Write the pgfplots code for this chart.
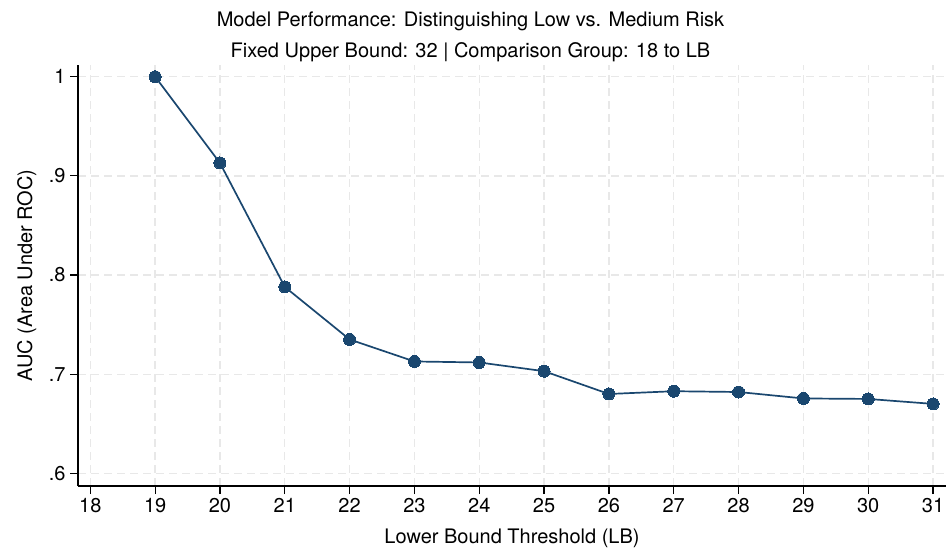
\documentclass[border=0pt]{standalone}
\usepackage{pgfplots}
\pgfplotsset{compat=1.18}
\usepackage{fontspec}
\setmainfont{TeX Gyre Heros}
\definecolor{navy}{RGB}{26,71,111}
\definecolor{gridgray}{RGB}{232,232,232}

\begin{document}
\begin{tikzpicture}
% fixed page frame around the plot area
\path[use as bounding box] (-78pt,-64pt) rectangle (869pt,486pt);
\begin{axis}[
  at={(0,0)}, anchor=south west,
  scale only axis,
  width=868pt, height=421pt,
  xmin=17.81, xmax=31.2,
  ymin=0.5872, ymax=1.0118,
  axis x line*=bottom, axis y line*=left,
  axis line style={black, line width=1.2pt, -},
  xtick={18,...,31},
  ytick={0.6,0.7,0.8,0.9,1},
  yticklabels={.6,.7,.8,.9,1},
  tick align=outside,
  major tick length=8pt,
  tick style={black, line width=1.2pt},
  grid=major,
  major grid style={gridgray, line width=1.3pt, dash pattern=on 8pt off 5pt},
  font=\fontsize{20}{24}\selectfont,
  /pgf/number format/assume math mode=true,
  ticklabel style={font=\fontsize{20}{24}\selectfont},
  xticklabel style={yshift=-1pt},
  yticklabel style={xshift=-1pt},
  xlabel={Lower Bound Threshold (LB)},
  ylabel={AUC (Area Under ROC)},
  xlabel style={at={(axis description cs:0.5,-0.1354)}, anchor=base},
  ylabel style={at={(axis description cs:-0.053,0.5)}, anchor=base},
  clip=false,
]
\addplot[navy, line width=1.7pt, mark=*, mark size=6pt,
  mark options={fill=navy, draw=navy, line width=0pt}]
  coordinates {
    (19,1.000) (20,0.913) (21,0.788) (22,0.735) (23,0.7128)
    (24,0.7118) (25,0.703) (26,0.680) (27,0.6828) (28,0.682)
    (29,0.6755) (30,0.675) (31,0.670)
  };
\node[anchor=base, font=\fontsize{20}{24}\selectfont]
  at (rel axis cs:0.4522,1.0926)
  {Model Performance: Distinguishing Low vs. Medium Risk};
\node[anchor=base, font=\fontsize{20}{24}\selectfont]
  at (rel axis cs:0.4522,1.0183)
  {Fixed Upper Bound: 32 | Comparison Group: 18 to LB};
\end{axis}
\end{tikzpicture}
\end{document}
